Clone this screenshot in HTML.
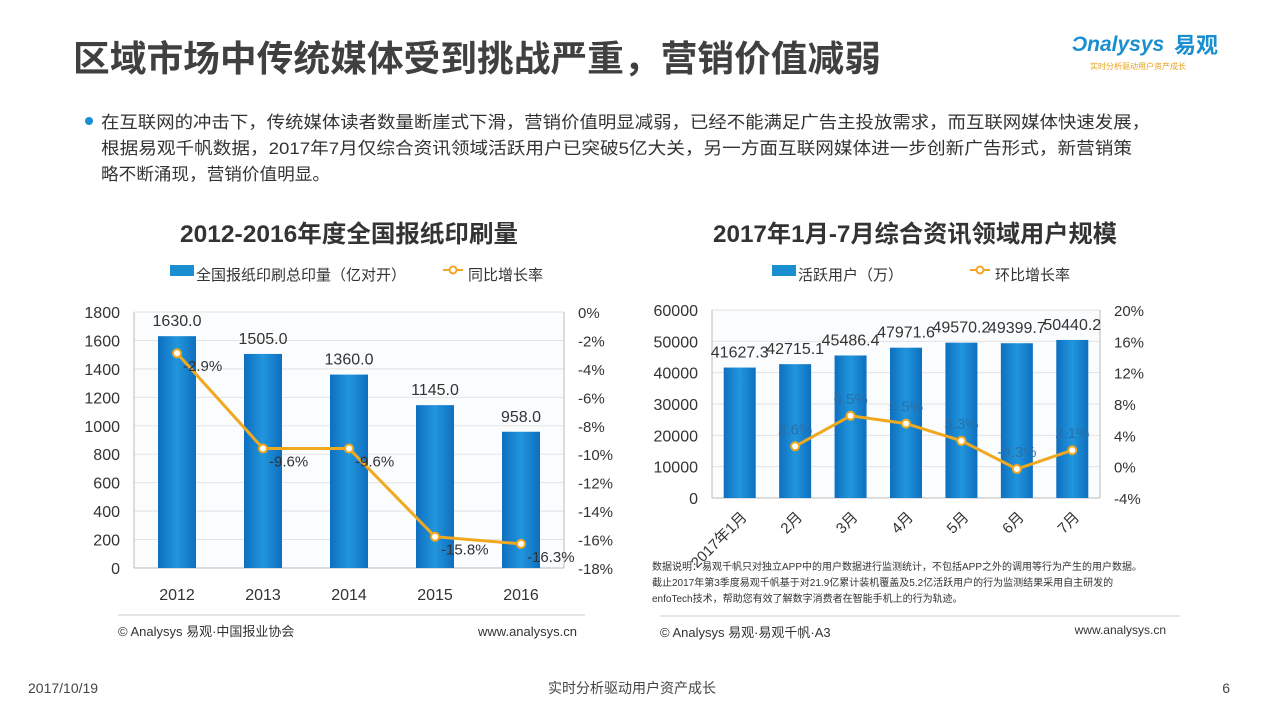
<!DOCTYPE html>
<html><head><meta charset="utf-8"><style>
html,body{margin:0;padding:0;background:#fff;}
body{width:1265px;height:712px;overflow:hidden;position:relative;font-family:"Liberation Sans","Noto Sans CJK SC",sans-serif;}
svg text{font-family:"Liberation Sans","Noto Sans CJK SC",sans-serif;}
</style></head><body>
<svg id="page" width="1265" height="712" xmlns="http://www.w3.org/2000/svg">
<defs>
<linearGradient id="bg" x1="0" x2="1" y1="0" y2="0"><stop offset="0" stop-color="#0e6fc0"/><stop offset="0.5" stop-color="#2196dc"/><stop offset="1" stop-color="#0e6fc0"/></linearGradient>
</defs>
<text x="73" y="71" font-size="36" font-weight="bold" fill="#404040" textLength="808" lengthAdjust="spacingAndGlyphs">区域市场中传统媒体受到挑战严重，营销价值减弱</text>
<g>
<text x="1072" y="51" font-size="21" font-style="italic" fill="#1a8fd0" font-weight="bold">Ɔnalysys</text>
<text x="1174" y="53" font-size="22" font-weight="bold" fill="#1a8fd0">易观</text>
<text x="1090" y="69" font-size="8" fill="#e8a21a">实时分析驱动用户资产成长</text>
</g>
<circle cx="89" cy="121" r="4" fill="#1a8fd0"/>
<g font-size="17" fill="#333">
<text x="101" y="128" textLength="1049" lengthAdjust="spacingAndGlyphs">在互联网的冲击下，传统媒体读者数量断崖式下滑，营销价值明显减弱，已经不能满足广告主投放需求，而互联网媒体快速发展，</text>
<text x="101" y="154" textLength="1031" lengthAdjust="spacingAndGlyphs">根据易观千帆数据，2017年7月仅综合资讯领域活跃用户已突破5亿大关，另一方面互联网媒体进一步创新广告形式，新营销策</text>
<text x="101" y="180" textLength="229" lengthAdjust="spacingAndGlyphs">略不断涌现，营销价值明显。</text>
</g>
<text x="180" y="242" font-size="24" font-weight="bold" fill="#333" textLength="338" lengthAdjust="spacingAndGlyphs">2012-2016年度全国报纸印刷量</text>
<text x="713" y="242" font-size="24" font-weight="bold" fill="#333" textLength="404" lengthAdjust="spacingAndGlyphs">2017年1月-7月综合资讯领域用户规模</text>
<g font-size="15" fill="#333">
<rect x="170" y="265" width="24" height="11" fill="#1a8fd0"/><text x="196" y="280">全国报纸印刷总印量（亿对开）</text>
<line x1="443" y1="270" x2="463" y2="270" stroke="#f5a623" stroke-width="2"/><circle cx="453" cy="270" r="3.5" fill="#fff" stroke="#f5a623" stroke-width="2"/><text x="468" y="280">同比增长率</text>
</g>
<g font-size="15" fill="#333">
<rect x="772" y="265" width="24" height="11" fill="#1a8fd0"/><text x="798" y="280">活跃用户（万）</text>
<line x1="970" y1="270" x2="990" y2="270" stroke="#f5a623" stroke-width="2"/><circle cx="980" cy="270" r="3.5" fill="#fff" stroke="#f5a623" stroke-width="2"/><text x="995" y="280">环比增长率</text>
</g>
<g id="left"></g>
<g id="right"></g>
<line x1="118" y1="615" x2="585" y2="615" stroke="#ccc"/>
<line x1="660" y1="616" x2="1180" y2="616" stroke="#ccc"/>
<g font-size="10" fill="#333">
<text x="652" y="570">数据说明：易观千帆只对独立APP中的用户数据进行监测统计，不包括APP之外的调用等行为产生的用户数据。</text>
<text x="652" y="586">截止2017年第3季度易观千帆基于对21.9亿累计装机覆盖及5.2亿活跃用户的行为监测结果采用自主研发的</text>
<text x="652" y="602">enfoTech技术，帮助您有效了解数字消费者在智能手机上的行为轨迹。</text>
</g>
<g font-size="13" fill="#333">
<text x="118" y="636">© Analysys 易观·中国报业协会</text>
<text x="577" y="636" text-anchor="end">www.analysys.cn</text>
<text x="660" y="637">© Analysys 易观·易观千帆·A3</text>
<text x="1166" y="634" text-anchor="end" font-size="12">www.analysys.cn</text>
</g>
<g font-size="14" fill="#444">
<text x="28" y="693">2017/10/19</text>
<text x="632" y="693" text-anchor="middle">实时分析驱动用户资产成长</text>
<text x="1230" y="693" text-anchor="end">6</text>
</g>
</svg>
<script>
const leftCategories = ['2012','2013','2014','2015','2016'];
const leftValues = [1630.0,1505.0,1360.0,1145.0,958.0];
const leftRates = [-2.9,-9.6,-9.6,-15.8,-16.3];
const leftYTicks = [0,200,400,600,800,1000,1200,1400,1600,1800];
const leftRTicks = [0,-2,-4,-6,-8,-10,-12,-14,-16,-18];

const rightCategories = ['2017年1月','2月','3月','4月','5月','6月','7月'];
const rightValues = [41627.3,42715.1,45486.4,47971.6,49570.2,49399.7,50440.2];
const rightRates = [null,2.6,6.5,5.5,3.3,-0.3,2.1];
const rightYTicks = [0,10000,20000,30000,40000,50000,60000];
const rightRTicks = [-4,0,4,8,12,16,20];

const NS='http://www.w3.org/2000/svg';
function mk(p,tag,at,txt){const e=document.createElementNS(NS,tag);for(const k in at)e.setAttribute(k,at[k]);if(txt!==undefined)e.textContent=txt;p.appendChild(e);return e;}

function chart(g,o){
  const {x0,x1,yB,yT,cats,vals,rates,yt,rt,yMax,rMin,rMax,bw,rot,fmtR,rateLblDx,rateLblDy}=o;
  const ys=v=>yB-(v/yMax)*(yB-yT);
  const yr=v=>yB-(v-rMin)/(rMax-rMin)*(yB-yT);
  const step=(x1-x0)/cats.length;
  const xc=i=>x0+step*(i+0.5);
  mk(g,'rect',{x:x0,y:yT,width:x1-x0,height:yB-yT,fill:'#fafcfe'});
  yt.forEach(t=>{
    const l=mk(g,'line',{x1:x0,x2:x1,y1:ys(t),y2:ys(t),stroke:'#e3e3e3'});
    
    
    const tx=mk(g,'text',{x:x0-14,y:ys(t)+6,'text-anchor':'end','font-size':16,fill:'#333'},String(t));
    
    
  });
  rt.forEach(t=>{
    const tx=mk(g,'text',{x:x1+14,y:yr(t)+6,'font-size':15,fill:'#333'},t+'%');
    
    
  });
  mk(g,'line',{x1:x0,x2:x0,y1:yT,y2:yB,stroke:'#bbb'});
  mk(g,'line',{x1:x1,x2:x1,y1:yT,y2:yB,stroke:'#bbb'});
  mk(g,'line',{x1:x0,x2:x1,y1:yB,y2:yB,stroke:'#bbb'});
  cats.forEach((c,i)=>{
    const b=mk(g,'rect',{x:xc(i)-bw/2,y:ys(vals[i]),width:bw,height:yB-ys(vals[i]),fill:'url(#bg)'});
    
    
    const v=mk(g,'text',{x:xc(i),y:ys(vals[i])-10,'text-anchor':'middle','font-size':o.valFs,fill:'#333'},vals[i].toFixed(1));
    
    
    let cl;
    if(rot){cl=mk(g,'text',{x:xc(i)+8,y:yB+20,'text-anchor':'end','font-size':15,fill:'#333',transform:`rotate(-45 ${xc(i)+8} ${yB+20})`},c);}
    else{cl=mk(g,'text',{x:xc(i),y:yB+32,'text-anchor':'middle','font-size':16,fill:'#333'},c);}
    
    
  });
  const pts=[];rates.forEach((r,i)=>{if(r!==null)pts.push([xc(i),yr(r),r]);});
  const pl=mk(g,'polyline',{points:pts.map(p=>p[0]+','+p[1]).join(' '),fill:'none',stroke:'#f0a81e','stroke-width':3});
  
  
  pts.forEach(p=>{
    const c=mk(g,'circle',{cx:p[0],cy:p[1],r:4,fill:'#fff',stroke:'#f0a81e','stroke-width':2});
    
    
    const t=mk(g,'text',{x:p[0]+rateLblDx,y:p[1]+rateLblDy,'font-size':15,fill:o.rateFill,'text-anchor':o.rateAnchor},fmtR(p[2]));
    
    
  });
}
chart(document.getElementById('left'),{x0:134,x1:564,yB:568,yT:312,cats:leftCategories,vals:leftValues,rates:leftRates,yt:leftYTicks,rt:leftRTicks,yMax:1800,rMin:-18,rMax:0,bw:38,rot:false,valFs:16,fmtR:r=>r.toFixed(1)+'%',rateLblDx:6,rateLblDy:18,rateFill:'#333',rateAnchor:'start'});
chart(document.getElementById('right'),{x0:712,x1:1100,yB:498,yT:310,cats:rightCategories,vals:rightValues,rates:rightRates,yt:rightYTicks,rt:rightRTicks,yMax:60000,rMin:-4,rMax:20,bw:32,rot:true,valFs:16,fmtR:r=>r.toFixed(1)+'%',rateLblDx:0,rateLblDy:-12,rateFill:'#2a6fa8',rateAnchor:'middle'});
</script>
</body></html>
